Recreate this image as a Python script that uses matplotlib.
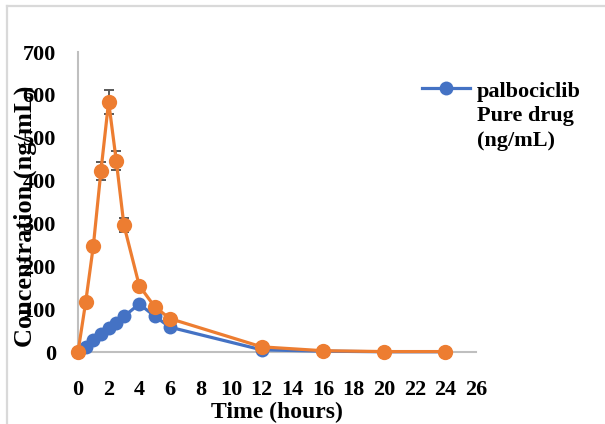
import matplotlib
matplotlib.use("Agg")
import matplotlib.pyplot as plt
from matplotlib.lines import Line2D

plt.rcParams["font.family"] = ["Liberation Serif", "DejaVu Serif"]
plt.rcParams["font.weight"] = "bold"

# Sampling times (hours)
time_h = [0, 0.5, 1, 1.5, 2, 2.5, 3, 4, 5, 6, 12, 16, 20, 24]

# Plasma concentration (ng/mL)
pure_drug = [0, 12, 28, 42, 55, 68, 83, 112, 84, 58, 5, 2, 0.5, 0.5]
formulation = [0, 116, 247, 423, 584, 446, 296, 155, 106, 78, 12, 3, 1, 1]
formulation_sd = [0, 5, 8, 21, 28, 22, 16, 6, 5, 4, 2, 1, 0.5, 0.5]

x_ticks = list(range(0, 27, 2))
y_ticks = list(range(0, 701, 100))

BLUE = "#4472C4"
ORANGE = "#ED7D31"
GRID = "#BFBFBF"

W, H = 605, 424
fig = plt.figure(figsize=(W / 100, H / 100), dpi=100)
ax = fig.add_axes([78 / W, 1 - 352 / H, 398 / W, 300 / H])

ax.plot(time_h, pure_drug, color=BLUE, lw=2.3, marker="o", ms=10,
        markeredgewidth=0, zorder=3, clip_on=False)
ax.errorbar(time_h, formulation, yerr=formulation_sd, fmt="none",
            ecolor="#595959", elinewidth=1.4, capsize=3.6, capthick=1.4,
            zorder=2, clip_on=False)
ax.plot(time_h, formulation, color=ORANGE, lw=2.3, marker="o", ms=11,
        markeredgewidth=0, zorder=4, clip_on=False)

ax.set_xlim(0, 26)
ax.set_ylim(0, 700)
ax.set_xticks(x_ticks)
ax.set_yticks(y_ticks)
ax.tick_params(axis="both", length=0, labelsize=16)
ax.tick_params(axis="x", pad=20)
ax.tick_params(axis="y", pad=16)
for lab in ax.get_xticklabels() + ax.get_yticklabels():
    lab.set_fontweight("bold")

for side in ("top", "right"):
    ax.spines[side].set_visible(False)
for side in ("left", "bottom"):
    ax.spines[side].set_color(GRID)
    ax.spines[side].set_linewidth(1.5)

ax.set_xlabel("Time (hours)", fontsize=17, fontweight="bold", labelpad=0)
ax.xaxis.set_label_coords(0.5, -0.165)
ax.set_ylabel("Concentration (ng/mL)", fontsize=19, fontweight="bold")
ax.yaxis.set_label_coords(-0.103, 0.453)

# Legend entry for the pure drug series
fig.add_artist(Line2D([422 / W, 470 / W], [1 - 88 / H, 1 - 88 / H],
                      color=BLUE, lw=2.3, marker=None))
fig.add_artist(Line2D([446 / W], [1 - 88 / H], color=BLUE, marker="o",
                      ms=10, markeredgewidth=0))
fig.text(477 / W, 1 - 82 / H, "palbociclib\nPure drug\n(ng/mL)",
         fontsize=16, fontweight="bold", va="top", ha="left",
         linespacing=1.3, transform=fig.transFigure)

# Chart area frame (top and left edges)
fig.add_artist(Line2D([7 / W, 1.0], [1 - 6 / H, 1 - 6 / H], color="#D9D9D9", lw=1.6))
fig.add_artist(Line2D([7 / W, 7 / W], [0, 1 - 6 / H], color="#D9D9D9", lw=1.6))

fig.savefig("out.png", dpi=100)
